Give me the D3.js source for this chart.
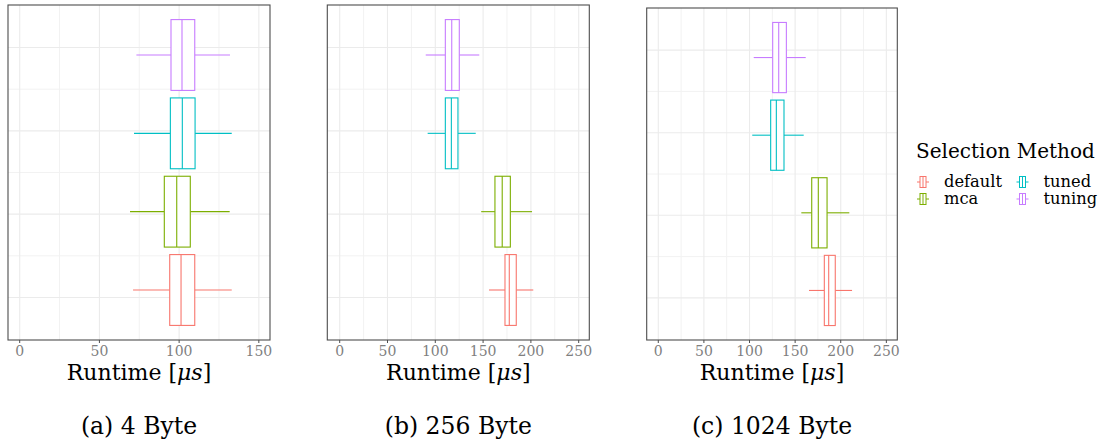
<!DOCTYPE html>
<html>
<head>
<meta charset="utf-8">
<script src="https://cdn.jsdelivr.net/npm/d3@7"></script>
<style>
  body { margin: 0; background: #fff; }
</style>
</head>
<body>
<svg id="chart" width="1101" height="445"></svg>
<script>
// selection methods, bottom to top
const methods = ['default', 'mca', 'tuned', 'tuning'];
const colors = ['#F8766D', '#7CAE00', '#00BFC4', '#C77CFF'];
// dodged box positions on the hidden y axis
const boxPos = [1.09, 2.03, 2.97, 3.91];
const boxWidth = 0.85;

// [lower whisker, q1, median, q3, upper whisker] per method, in µs
const stats4 = [
  [71.1, 94.1, 101.2, 109.8, 133.0],
  [69.2, 90.7, 98.5, 107.0, 131.7],
  [71.7, 94.5, 102.0, 110.0, 133.0],
  [73.2, 94.9, 101.8, 109.8, 131.9]
];
const stats256 = [
  [156.2, 172.9, 177.4, 184.7, 202.5],
  [148.0, 162.4, 170.0, 178.5, 201.2],
  [92.0, 110.5, 116.8, 123.7, 142.3],
  [90.0, 110.5, 117.2, 125.1, 146.0]
];
const stats1024 = [
  [165.2, 182.0, 186.8, 194.0, 212.4],
  [156.8, 168.2, 175.4, 185.0, 209.4],
  [103.0, 123.2, 129.4, 137.8, 159.4],
  [104.6, 125.4, 132.0, 140.4, 161.6]
];

const ticksA = [0, 50, 100, 150];
const ticksBC = [0, 50, 100, 150, 200, 250];
const minorA = [25, 75, 125];
const minorBC = [25, 75, 125, 175, 225];
const yMajor = [1, 2, 3, 4];
const yMinor = [1.5, 2.5, 3.5];

const captions = ['(a) 4 Byte', '(b) 256 Byte', '(c) 1024 Byte'];

const panels = [
  { stats: stats4, ticks: ticksA, minor: minorA, domain: [-7.34, 157.0], x0: 8, x1: 270, y0: 5, y1: 340 },
  { stats: stats256, ticks: ticksBC, minor: minorBC, domain: [-12.97, 261.1], x0: 327.3, x1: 589.3, y0: 5, y1: 340 },
  { stats: stats1024, ticks: ticksBC, minor: minorBC, domain: [-12.7, 262.0], x0: 646.7, x1: 897.3, y0: 8, y1: 340 }
];

const svg = d3.select('#chart');
const FONT = '"DejaVu Serif", serif';

function label(g, x, y, size, anchor, fill) {
  return g.append('text')
    .attr('x', x).attr('y', y)
    .attr('font-family', FONT)
    .attr('font-size', size)
    .attr('text-anchor', anchor)
    .attr('fill', fill || '#000');
}

panels.forEach((p, i) => {
  const x = d3.scaleLinear().domain(p.domain).range([p.x0, p.x1]);
  const y = d3.scaleLinear().domain([0.49, 4.51]).range([p.y1, p.y0]);
  const g = svg.append('g');

  // grid
  g.selectAll('.xminor').data(p.minor).enter().append('line')
    .attr('x1', d => x(d)).attr('x2', d => x(d))
    .attr('y1', p.y0).attr('y2', p.y1)
    .attr('stroke', '#f2f2f2').attr('stroke-width', 1);
  g.selectAll('.yminor').data(yMinor).enter().append('line')
    .attr('x1', p.x0).attr('x2', p.x1)
    .attr('y1', d => y(d)).attr('y2', d => y(d))
    .attr('stroke', '#f2f2f2').attr('stroke-width', 1);
  g.selectAll('.xmajor').data(p.ticks).enter().append('line')
    .attr('x1', d => x(d)).attr('x2', d => x(d))
    .attr('y1', p.y0).attr('y2', p.y1)
    .attr('stroke', '#ebebeb').attr('stroke-width', 1.1);
  g.selectAll('.ymajor').data(yMajor).enter().append('line')
    .attr('x1', p.x0).attr('x2', p.x1)
    .attr('y1', d => y(d)).attr('y2', d => y(d))
    .attr('stroke', '#ebebeb').attr('stroke-width', 1.1);

  // boxes
  p.stats.forEach((s, k) => {
    const c = colors[k];
    const yc = y(boxPos[k]);
    const yt = y(boxPos[k] + boxWidth / 2);
    const yb = y(boxPos[k] - boxWidth / 2);
    const bx = g.append('g').attr('stroke', c).attr('fill', 'none').attr('stroke-width', 1.1);
    bx.append('line').attr('x1', x(s[0])).attr('x2', x(s[1])).attr('y1', yc).attr('y2', yc);
    bx.append('line').attr('x1', x(s[3])).attr('x2', x(s[4])).attr('y1', yc).attr('y2', yc);
    bx.append('rect').attr('x', x(s[1])).attr('y', yt)
      .attr('width', x(s[3]) - x(s[1])).attr('height', yb - yt).attr('fill', '#fff');
    bx.append('line').attr('x1', x(s[2])).attr('x2', x(s[2])).attr('y1', yt).attr('y2', yb);
  });

  // border
  g.append('rect').attr('x', p.x0).attr('y', p.y0)
    .attr('width', p.x1 - p.x0).attr('height', p.y1 - p.y0)
    .attr('fill', 'none').attr('stroke', '#4d4d4d').attr('stroke-width', 1.1);

  // x axis ticks + labels
  p.ticks.forEach(t => {
    g.append('line').attr('x1', x(t)).attr('x2', x(t))
      .attr('y1', p.y1).attr('y2', p.y1 + 3).attr('stroke', '#4d4d4d');
    label(g, x(t), 356, 14, 'middle', '#7f7f7f').text(t);
  });

  const cx = (p.x0 + p.x1) / 2;
  const tt = label(g, cx, 380, 22, 'middle');
  tt.append('tspan').text('Runtime [');
  tt.append('tspan').attr('font-style', 'italic').text('μs');
  tt.append('tspan').text(']');

  label(g, cx, 434, 23.5, 'middle').text(captions[i]);
});

// legend
const lg = svg.append('g');
label(lg, 916, 158, 20, 'start').text('Selection Method');
methods.forEach((m, k) => {
  const col = Math.floor(k / 2), row = k % 2;
  const kx = 923 + col * 99.5;
  const ky = 182 + row * 17;
  const key = lg.append('g').attr('stroke', colors[k]).attr('fill', 'none').attr('stroke-width', 1);
  key.append('line').attr('x1', kx - 6).attr('x2', kx + 6).attr('y1', ky).attr('y2', ky);
  key.append('rect').attr('x', kx - 3).attr('y', ky - 5.5).attr('width', 6).attr('height', 11).attr('fill', '#fff');
  key.append('line').attr('x1', kx).attr('x2', kx).attr('y1', ky - 5.5).attr('y2', ky + 5.5);
  label(lg, kx + 21, ky + 5, 16.3, 'start').text(m);
});
</script>
</body>
</html>
